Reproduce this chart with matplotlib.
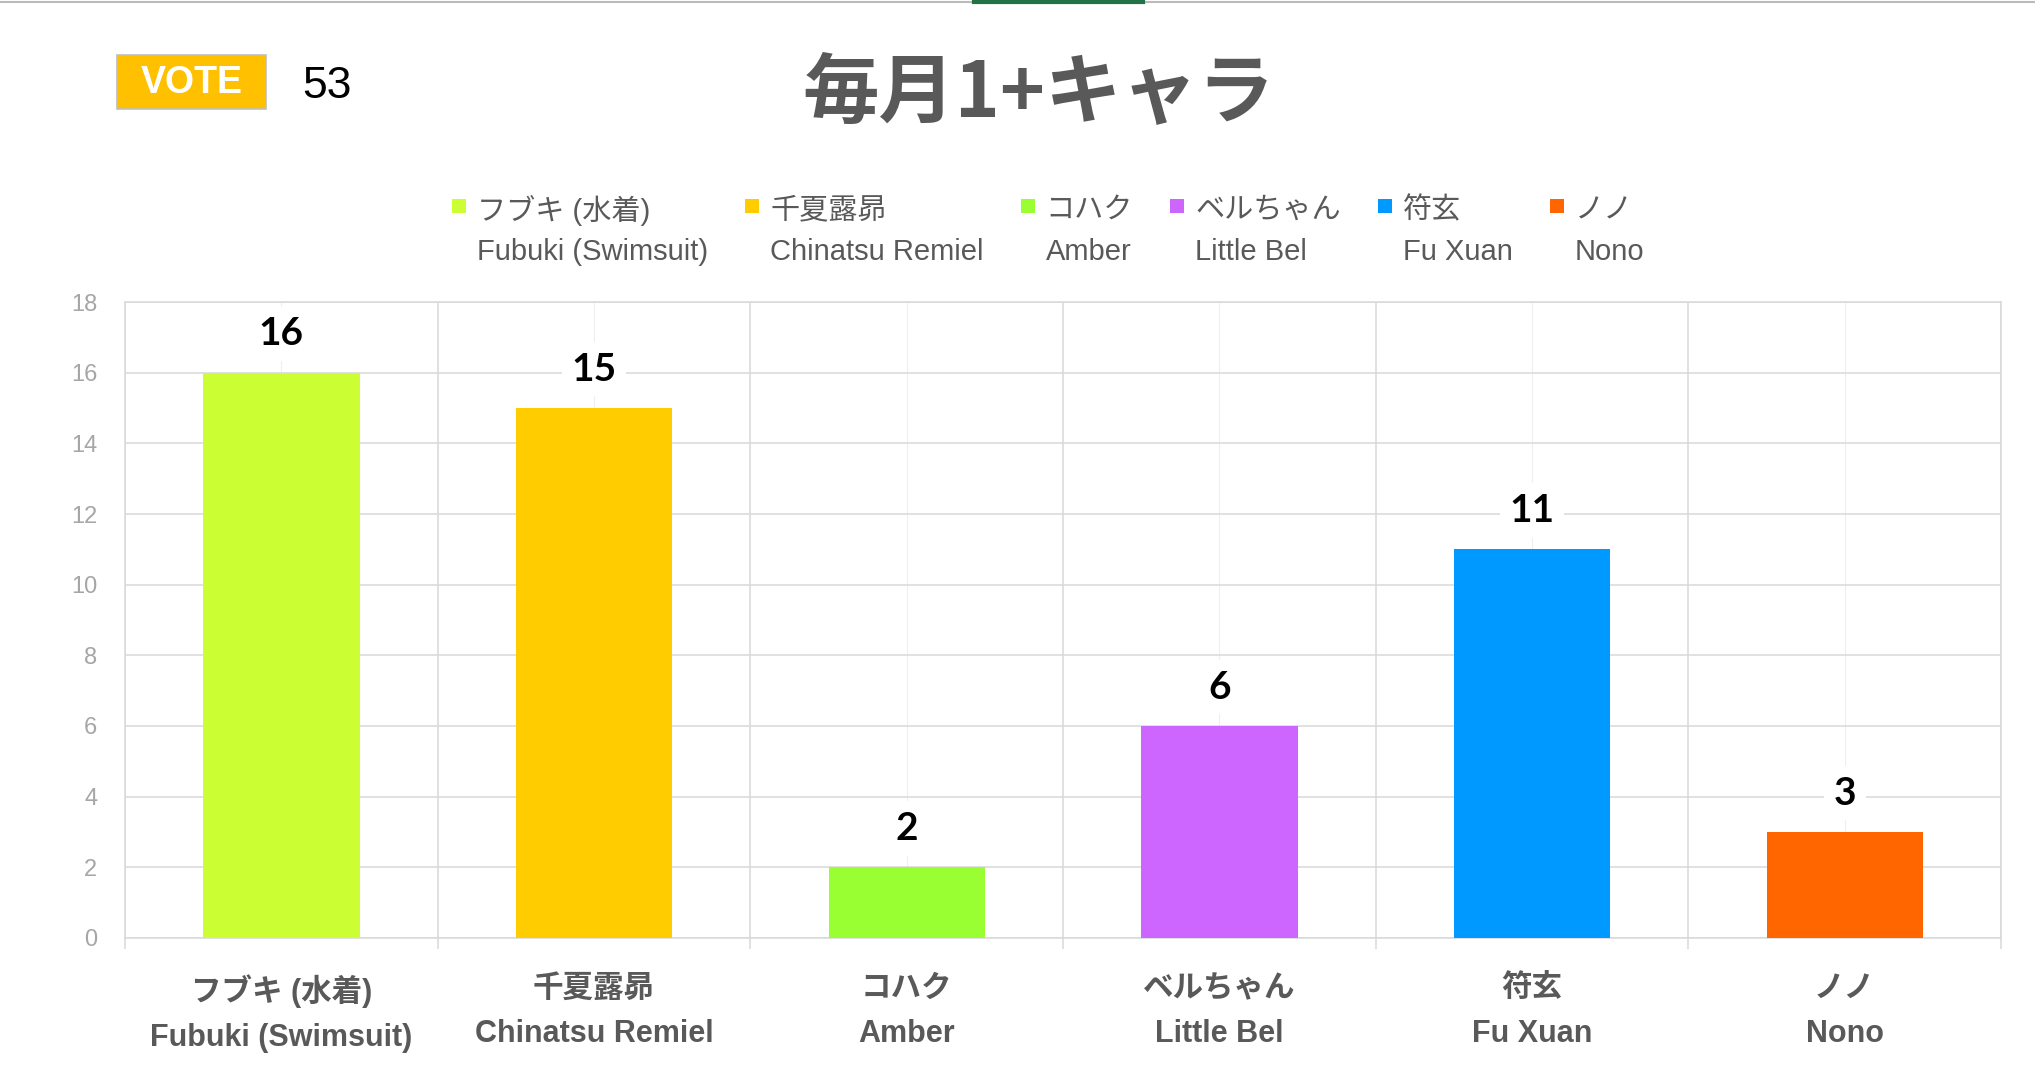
import numpy as np
import matplotlib.pyplot as plt
from matplotlib.patches import Rectangle
from matplotlib.lines import Line2D

# data
names_jp = ['フブキ (水着)', '千夏露昴', 'コハク', 'ベルちゃん', '符玄', 'ノノ']
names_en = ['Fubuki (Swimsuit)', 'Chinatsu Remiel', 'Amber', 'Little Bel', 'Fu Xuan', 'Nono']
votes = [16, 15, 2, 6, 11, 3]
colors = ['#CCFF33', '#FFCC00', '#99FF33', '#CC66FF', '#0099FF', '#FF6600']
total_votes = 53
title = '毎月1+キャラ'

W, H = 2035, 1086
plt.rcParams['font.family'] = ['Liberation Sans', 'Noto Sans CJK JP']

fig = plt.figure(figsize=(W / 100, H / 100), dpi=100)
ax = fig.add_axes([125 / W, 1 - 938 / H, (2001 - 125) / W, (938 - 302) / H])

x = np.arange(len(votes))
ax.bar(x, votes, width=0.5, color=colors, zorder=3)
ax.set_xlim(-0.5, len(votes) - 0.5)
ax.set_ylim(0, 18)
ax.set_yticks(np.arange(0, 19, 2))
ax.set_xticks(x)
ax.set_xticks(np.arange(-0.5, len(votes), 1), minor=True)
ax.set_xticklabels([f'{j}\n{e}' for j, e in zip(names_jp, names_en)],
                   fontweight='bold', linespacing=1.65)

ax.tick_params(axis='x', which='major', length=0, pad=26, labelsize=22, labelcolor='#595959')
ax.tick_params(axis='x', which='minor', length=8, color='#D9D9D9', width=1.1)
ax.tick_params(axis='y', length=0, pad=20, labelsize=17, labelcolor='#A6A6A6')

ax.grid(axis='y', color='#D9D9D9', linewidth=1.1)
ax.grid(axis='x', which='minor', color='#D9D9D9', linewidth=1.1)
ax.grid(axis='x', which='major', color='#EFEFEF', linewidth=0.8)
ax.set_axisbelow(True)
for s in ax.spines.values():
    s.set_color('#D9D9D9')
    s.set_linewidth(1.1)

# value labels
for xi, v in zip(x, votes):
    ax.annotate(str(v), (xi, v), xytext=(0, 28), textcoords='offset points',
                ha='center', va='center', fontsize=28, fontweight='bold',
                family=['Lato', 'DejaVu Sans'], color='black', zorder=5,
                bbox=dict(boxstyle='square,pad=0.25', fc='white', ec='none'))

# title
fig.text(1038 / W, 1 - 93 / H, title, ha='center', va='center', fontsize=55,
         fontweight='bold', color='#595959', family=['Noto Sans CJK JP'])

# vote box
fig.add_artist(Rectangle((117 / W, 1 - 109 / H), 149 / W, 54 / H, transform=fig.transFigure,
                         facecolor='#FFC000', edgecolor='#BFBFBF', linewidth=1.2))
fig.text(191.5 / W, 1 - 83 / H, 'VOTE', ha='center', va='center', fontsize=27,
         fontweight='bold', color='white')
fig.text(302 / W, 1 - 87 / H, str(total_votes), ha='left', va='center', fontsize=32, color='black')

# sheet border at the top
fig.add_artist(Line2D([0, 1], [1 - 1.5 / H] * 2, color='#BBBBBB', lw=1.5))
fig.add_artist(Line2D([974 / W, 1143 / W], [1 - 1.5 / H] * 2, color='#217346', lw=3))

# legend, laid out by hand
renderer = fig.canvas.get_renderer()
items = []
for jp, en, c in zip(names_jp, names_en, colors):
    t1 = fig.text(0, 1 - 210 / H, jp, ha='left', va='center', fontsize=21, color='#595959')
    t2 = fig.text(0, 1 - 252 / H, en, ha='left', va='center', fontsize=21, color='#595959')
    w = max(t1.get_window_extent(renderer).width, t2.get_window_extent(renderer).width)
    items.append((t1, t2, c, w))

gap = 37
x0 = 452
for t1, t2, c, w in items:
    fig.add_artist(Rectangle((x0 / W, 1 - 213 / H), 14 / W, 14 / H,
                             transform=fig.transFigure, facecolor=c, edgecolor='none'))
    t1.set_x((x0 + 25) / W)
    t2.set_x((x0 + 25) / W)
    x0 += 25 + w + gap

fig.savefig('out.png', dpi=100)
